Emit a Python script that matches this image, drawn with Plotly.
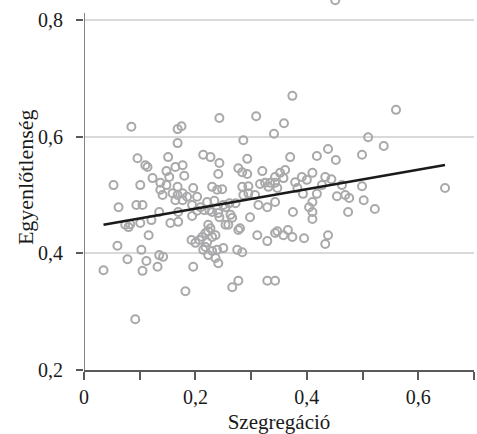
import numpy as np
import plotly.graph_objects as go

# Segregation (x) and inequality (y) for each observation
szegregacio = [
    0.451, 0.374, 0.560, 0.243, 0.309, 0.359, 0.085, 0.168, 0.175, 0.341, 0.510, 0.286, 0.168, 0.538, 0.438,
    0.096, 0.110, 0.114, 0.151, 0.214, 0.227, 0.243, 0.293, 0.370, 0.418, 0.452, 0.499, 0.148, 0.153, 0.164,
    0.177, 0.180, 0.123, 0.241, 0.277, 0.284, 0.293, 0.320, 0.343, 0.352, 0.361, 0.358, 0.391, 0.400, 0.410,
    0.433, 0.444,
    0.499, 0.463, 0.427, 0.418, 0.454, 0.469, 0.476, 0.502, 0.648, 0.393, 0.379, 0.383, 0.334,
    0.410, 0.404, 0.410, 0.410, 0.474, 0.522, 0.375,
    0.053, 0.101, 0.137, 0.148, 0.137, 0.141, 0.168, 0.159, 0.168, 0.177, 0.185, 0.164, 0.177, 0.196, 0.203,
    0.230, 0.239, 0.248, 0.284, 0.295, 0.316, 0.325, 0.331, 0.343, 0.347, 0.286, 0.295, 0.307,
    0.194, 0.313, 0.329, 0.343, 0.062, 0.094, 0.105, 0.135, 0.074, 0.080, 0.083, 0.101, 0.121, 0.155, 0.169,
    0.169, 0.194, 0.203, 0.209, 0.216, 0.225, 0.230, 0.221, 0.234, 0.250, 0.261, 0.272, 0.241, 0.254, 0.263,
    0.243, 0.254, 0.266, 0.298, 0.259, 0.223,
    0.277, 0.280, 0.193, 0.200, 0.207, 0.212, 0.218, 0.223, 0.227, 0.230, 0.236, 0.221, 0.218, 0.214, 0.223,
    0.236, 0.241, 0.250, 0.239, 0.230, 0.275, 0.284, 0.311, 0.329, 0.343, 0.347, 0.358, 0.366, 0.374, 0.395,
    0.433, 0.438, 0.060, 0.116, 0.078, 0.103, 0.112, 0.135, 0.142,
    0.035, 0.105, 0.132, 0.196, 0.266, 0.277, 0.329, 0.343, 0.182, 0.092,
]
egyenlotlenseg = [
    0.834, 0.670, 0.646, 0.632, 0.635, 0.623, 0.617, 0.613, 0.618, 0.605, 0.599, 0.594, 0.589, 0.584, 0.579,
    0.563, 0.551, 0.548, 0.565, 0.569, 0.565, 0.555, 0.562, 0.565, 0.567, 0.560, 0.569, 0.541, 0.531, 0.548,
    0.551, 0.533, 0.529, 0.536, 0.546, 0.539, 0.536, 0.541, 0.531, 0.538, 0.543, 0.529, 0.531, 0.526, 0.538,
    0.531, 0.527,
    0.515, 0.517, 0.517, 0.502, 0.498, 0.500, 0.495, 0.491, 0.512, 0.502, 0.522, 0.512, 0.521,
    0.488, 0.479, 0.471, 0.459, 0.471, 0.476, 0.471,
    0.517, 0.517, 0.521, 0.517, 0.509, 0.500, 0.514, 0.503, 0.500, 0.503, 0.497, 0.491, 0.491, 0.512, 0.497,
    0.514, 0.509, 0.510, 0.514, 0.515, 0.519, 0.521, 0.514, 0.521, 0.512, 0.500, 0.503, 0.500,
    0.483, 0.483, 0.479, 0.488, 0.479, 0.483, 0.483, 0.471, 0.449, 0.445, 0.450, 0.452, 0.457, 0.452, 0.454,
    0.471, 0.464, 0.473, 0.479, 0.474, 0.474, 0.471, 0.488, 0.490, 0.483, 0.486, 0.486, 0.469, 0.479, 0.466,
    0.462, 0.449, 0.461, 0.462, 0.449, 0.449,
    0.440, 0.443, 0.423, 0.418, 0.423, 0.428, 0.435, 0.438, 0.443, 0.428, 0.431, 0.419, 0.411, 0.406, 0.397,
    0.392, 0.383, 0.409, 0.406, 0.404, 0.406, 0.402, 0.431, 0.421, 0.435, 0.438, 0.431, 0.440, 0.428, 0.426,
    0.416, 0.431, 0.413, 0.431, 0.390, 0.406, 0.387, 0.397, 0.394,
    0.371, 0.370, 0.377, 0.377, 0.342, 0.353, 0.353, 0.353, 0.335, 0.287,
]

x_tick_vals = [0, 0.1, 0.2, 0.3, 0.4, 0.5, 0.6, 0.7]
x_tick_text = ["0", "", "0,2", "", "0,4", "", "0,6", ""]
y_tick_vals = [0.2, 0.4, 0.6, 0.8]
y_tick_text = ["0,2", "0,4", "0,6", "0,8"]
y_axis_top = 0.812  # where the drawn vertical axis line stops

x = np.array(szegregacio)
y = np.array(egyenlotlenseg)

# Least-squares trend line over the observed x range
slope, intercept = np.polyfit(x, y, 1)
fit_x = np.array([x.min(), x.max()])
fit_y = intercept + slope * fit_x

FONT = "Liberation Serif, Times New Roman, serif"
AXIS_COLOR = "#5a5a5a"

fig = go.Figure()
fig.add_trace(go.Scatter(
    x=x, y=y, mode="markers",
    marker=dict(symbol="circle-open", size=8, color="#a9a9ab",
                line=dict(width=2, color="#a9a9ab")),
    cliponaxis=False, showlegend=False, hoverinfo="skip",
))
fig.add_trace(go.Scatter(
    x=fit_x, y=fit_y, mode="lines",
    line=dict(color="#1a1a1a", width=2.6),
    showlegend=False, hoverinfo="skip",
))

fig.update_layout(
    width=477, height=434,
    margin=dict(l=83.5, r=3, t=0, b=64),
    paper_bgcolor="white", plot_bgcolor="white",
    font=dict(family=FONT, size=20, color="#1a1a1a"),
    xaxis=dict(
        range=[0, 0.7], tickvals=x_tick_vals, ticktext=x_tick_text,
        showgrid=False, zeroline=False,
        showline=True, linecolor=AXIS_COLOR, linewidth=1.5,
        ticks="outside", ticklen=8, tickwidth=1.5, tickcolor=AXIS_COLOR,
        title=dict(text="Szegregáció", standoff=8, font=dict(size=21)),
    ),
    yaxis=dict(
        range=[0.2, 0.8343], tickvals=y_tick_vals, ticktext=y_tick_text,
        showgrid=True, gridcolor="#d9d9d9", gridwidth=1.5, zeroline=False,
        showline=False,
        ticks="outside", ticklen=7, tickwidth=1.5, tickcolor=AXIS_COLOR,
        ticklabelstandoff=9,
    ),
    shapes=[dict(
        type="line", xref="x", yref="y",
        x0=0, x1=0, y0=0.2, y1=y_axis_top,
        line=dict(color=AXIS_COLOR, width=1.5),
    )],
    annotations=[dict(
        text="Egyenlőtlenség", textangle=-90,
        xref="paper", yref="paper", x=-0.15, y=0.52,
        xanchor="center", yanchor="middle", showarrow=False,
        font=dict(family=FONT, size=22, color="#1a1a1a"),
    )],
)

fig.write_html("out.html")
